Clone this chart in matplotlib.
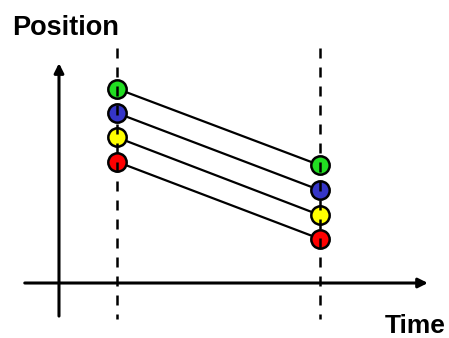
import matplotlib.pyplot as plt

# data: two snapshots in time, four coloured particles
times = [1.0, 4.5]
colors = ['#22dd22', '#3535c8', '#ffff00', '#ff0000']
pos_start = [3.35, 2.93, 2.51, 2.09]
pos_end = [2.03, 1.60, 1.17, 0.76]

fig = plt.figure(figsize=(4.49, 3.38), dpi=100)
ax = fig.add_axes([0, 0, 1, 1])
ax.set_xlim(-1.017, 6.724)
ax.set_ylim(-0.948, 4.879)
ax.axis('off')

# axes with arrow heads
arrow = dict(arrowstyle='-|>', lw=2.2, color='black', mutation_scale=14, shrinkA=0, shrinkB=0)
ax.annotate('', xy=(6.36, 0), xytext=(-0.59, 0), arrowprops=arrow)
ax.annotate('', xy=(0, 3.79), xytext=(0, -0.57), arrowprops=arrow)

# dashed time markers
for t in times:
    ax.plot([t, t], [4.05, -0.62], color='black', lw=1.8, ls=(0, (4, 3.6)), zorder=4)

# trajectories
for c, p0, p1 in zip(colors, pos_start, pos_end):
    ax.plot(times, [p0, p1], color='black', lw=1.6, zorder=2)
    ax.scatter(times, [p0, p1], s=175, color=c, edgecolors='black', linewidths=1.8, zorder=3)

ax.text(-0.8, 4.276, 'Position', fontsize=19.5, fontweight='bold', family='Liberation Sans', ha='left', va='baseline')
ax.text(5.62, -0.87, 'Time', fontsize=19, fontweight='bold', family='Liberation Sans', ha='left', va='baseline')

fig.savefig('out.png', dpi=100)
